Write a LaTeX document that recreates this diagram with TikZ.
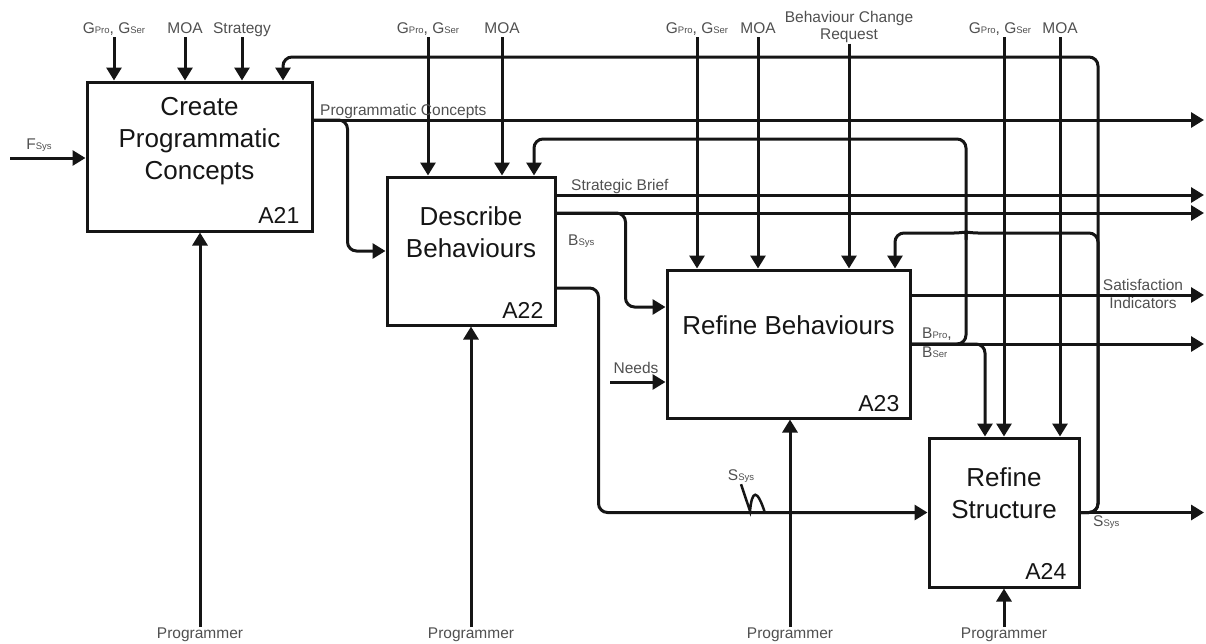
\documentclass[tikz,border=0pt]{standalone}
\usepackage{fontspec}
\setmainfont{Liberation Sans}
\usetikzlibrary{arrows.meta,positioning}
\definecolor{ink}{HTML}{151515}
\definecolor{labelgrey}{HTML}{505050}
\newcommand{\flowsub}[1]{{\fontsize{9.5}{10}\selectfont #1}}

\begin{document}
\begin{tikzpicture}[
  x=1pt,y=-1pt,
  every node/.style={inner sep=0pt},
  box/.style={draw=ink,line width=3pt,sharp corners},
  boxtitle/.style={font=\fontsize{26}{32}\selectfont,text=ink,align=center,anchor=north},
  idtag/.style={font=\fontsize{23}{26}\selectfont,text=ink},
  lbl/.style={font=\fontsize{15.5}{18}\selectfont,text=labelgrey,anchor=base,text depth=4pt},
  arr/.style={-{Triangle[length=13pt,width=15pt]},draw=ink,line width=3pt,rounded corners=9pt},
  wire/.style={draw=ink,line width=3pt,rounded corners=9pt}
]
\useasboundingbox (0,0) rectangle (1206,643);

\node[box,minimum width=225pt,minimum height=149pt] (a21) at (199.5,156.5) {};
\node[box,minimum width=168pt,minimum height=148pt] (a22) at (471,251) {};
\node[box,minimum width=243pt,minimum height=148pt] (a23) at (788.5,344) {};
\node[box,minimum width=150pt,minimum height=149pt] (a24) at (1004,512.5) {};

\node[boxtitle,below=17pt of a21.north] (t21) {Create\\Programmatic\\Concepts};
\node[boxtitle,below=31pt of a22.north] (t22) {Describe\\Behaviours};
\node[boxtitle,below=47pt of a23.north] (t23) {Refine Behaviours};
\node[boxtitle,below=31pt of a24.north] (t24) {Refine\\Structure};
\node[idtag,above left=9pt and 14pt of a21.south east] (n21) {A21};
\node[idtag,above left=8pt and 13pt of a22.south east] (n22) {A22};
\node[idtag,above left=8pt and 12pt of a23.south east] (n23) {A23};
\node[idtag,above left=9pt and 14pt of a24.south east] (n24) {A24};

% controls
\node[lbl] (g21) at (114,33) {G\flowsub{Pro}, G\flowsub{Ser}};
\node[lbl] (m21) at (185,33) {MOA};
\node[lbl] (s21) at (242,33) {Strategy};
\node[lbl] (g22) at (428,33) {G\flowsub{Pro}, G\flowsub{Ser}};
\node[lbl] (m22) at (502,33) {MOA};
\node[lbl] (g23) at (697,33) {G\flowsub{Pro}, G\flowsub{Ser}};
\node[lbl] (m23) at (758,33) {MOA};
\node[lbl,anchor=north,align=center,font=\fontsize{15.5}{17}\selectfont] (bcr) at (849,11) {Behaviour Change\\Request};
\node[lbl] (g24) at (1000,33) {G\flowsub{Pro}, G\flowsub{Ser}};
\node[lbl] (m24) at (1060,33) {MOA};
\foreach \l/\b in {g21/a21,m21/a21,s21/a21,g22/a22,m22/a22,g23/a23,m23/a23,bcr/a23,m24/a24}
  \draw[arr] (\l.south) -- (\l.south |- \b.north);
\draw[arr] (a24.north |- g24.south) -- (a24.north);

% mechanisms
\node[lbl] (p21) at (200,638) {Programmer};
\node[lbl] (p22) at (471,638) {Programmer};
\node[lbl] (p23) at (790,638) {Programmer};
\node[lbl] (p24) at (1004,638) {Programmer};
\foreach \l/\b in {p21/a21,p22/a22,p23/a23,p24/a24}
  \draw[arr] (\l.north) -- (\l.north |- \b.south);

% inputs
\node[lbl] (fsys) at (39,149) {F\flowsub{Sys}};
\coordinate (fin) at (10,158);
\draw[arr] (fin) -- (fin -| a21.west);
\node[lbl] (nd) at (636,373) {Needs};
\coordinate (nin) at (610,382);
\draw[arr] (nin) -- (nin -| a23.west);

% A21 out
\node[lbl,anchor=base west] (pc) at (320,115) {Programmatic Concepts};
\coordinate (pcend) at (1204,120);
\draw[arr] (pcend -| a21.east) -- (pcend);
\draw[arr] (pcend -| a21.east) -| ([xshift=-38pt]a22.west) -- (a22.west);

% A22 out
\node[lbl,anchor=base west] (sb) at (571,190) {Strategic Brief};
\node[lbl,anchor=base west] (bs) at (568,245) {B\flowsub{Sys}};
\coordinate (sbend) at (1204,195);
\coordinate (bend) at (1204,213);
\coordinate (bsin) at (a23.west |- 0,307);
\draw[arr] (sbend -| a22.east) -- (sbend);
\draw[arr] (bend -| a22.east) -- (bend);
\draw[arr] (bend -| a22.east) -| ([xshift=-40pt]bsin) -- (bsin);
\draw[arr] (a22.east |- 0,288) -| ([xshift=-329pt]a24.west) -- (a24.west);
\node[lbl] (ss1) at (741,480) {S\flowsub{Sys}};
\draw[draw=ink,line width=2.5pt] (ss1.south) -- (750,511) .. controls (752,490) and (757,488) .. (765,513);

% A23 out
\node[lbl,anchor=north,align=center] (si) at (1143,279) {Satisfaction\\Indicators};
\node[lbl,anchor=north west,align=left,font=\fontsize{15.5}{19}\selectfont] (bp) at (922,328) {B\flowsub{Pro},\\B\flowsub{Ser}};
\coordinate (siend) at (1204,295);
\coordinate (bpend) at (1204,344);
\draw[arr] (siend -| a23.east) -- (siend);
\draw[arr] (a23.east) -- (bpend);
\draw[arr] (a23.east) -| ([xshift=-19pt]a24.north);
\draw[arr] (a23.east) -| (966,139) -| ([xshift=63pt]a22.north);

% A24 out
\node[lbl,anchor=base west] (ss2) at (1093,526) {S\flowsub{Sys}};
\coordinate (ssend) at (1204,512.5);
\draw[arr] (a24.east) -- (ssend);
\draw[arr] (a24.east) -| (1098,57) -| ([xshift=83.5pt]a21.north);
\draw[wire] (a24.east) -| (1098,233) -- (978,233);
\draw[wire] (978,233) .. controls (970,233) and (966,231) .. (966,225)
  .. controls (966,231) and (962,233) .. (954,233);
\draw[arr] (954,233) -| ([xshift=106.5pt]a23.north);
\end{tikzpicture}
\end{document}
